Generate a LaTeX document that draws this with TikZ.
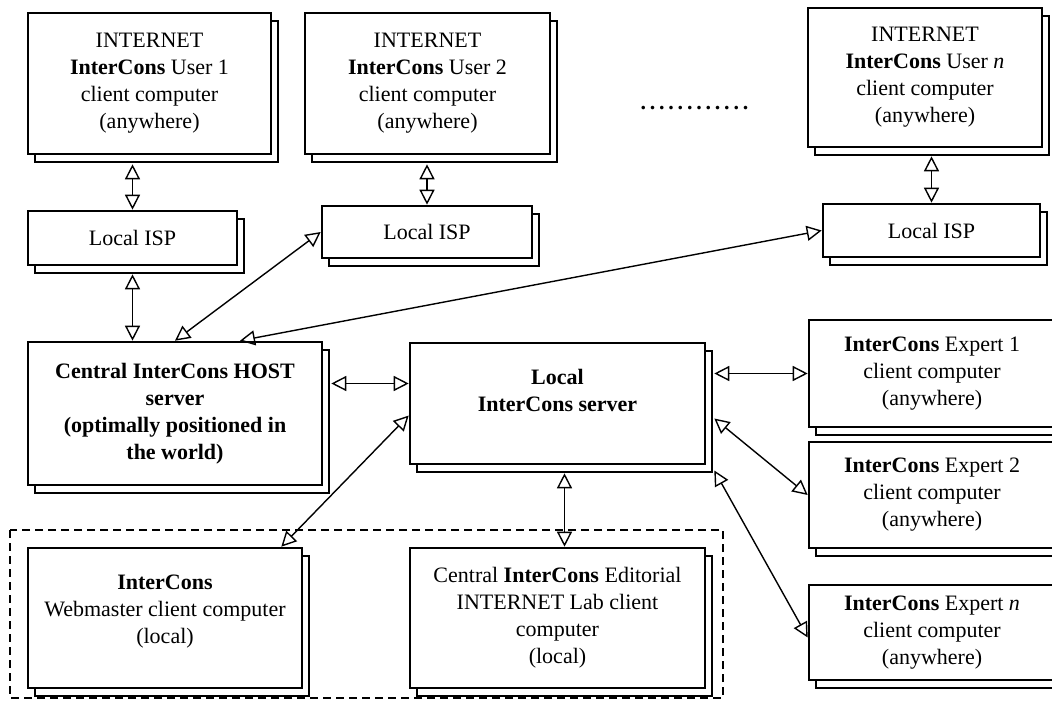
\documentclass[tikz,border=0pt]{standalone}
\usepackage{fontspec}
\setmainfont{Liberation Serif}
\usetikzlibrary{arrows.meta,shadows}
\tikzset{
  mytip/.tip={Triangle[open,length=15pt,width=15pt]},
  conn/.style={mytip-mytip, line width=1.4pt},
  txt/.style={font=\fontsize{22}{27}\selectfont},
  box/.style={draw, line width=2.6pt, fill=white, align=center, inner sep=0pt,
    txt,
    general shadow={shadow xshift=7pt, shadow yshift=-8pt, draw=black, fill=white, line width=1.6pt}},
}
\def\mydots{.\kern3.8pt.\kern3.8pt.\kern3.8pt.\kern3.8pt.\kern3.8pt.\kern3.8pt.\kern3.8pt.\kern3.8pt.\kern3.8pt.\kern3.8pt.\kern3.8pt.}
\begin{document}
\begin{tikzpicture}[x=1pt,y=-1pt]
\path[use as bounding box] (0,0) rectangle (1052,701);
\clip (0,0) rectangle (1052,701);

% dashed group
\draw[line width=1.4pt, dash pattern=on 8pt off 5pt] (10,530) rectangle (723,698);

% user boxes
\node[box, minimum width=243pt, minimum height=141pt] (u1) at (149.5,83.5)
  {INTERNET\\\textbf{InterCons} User 1\\client computer\\(anywhere)};
\node[box, minimum width=245pt, minimum height=141pt] (u2) at (427.5,83.5)
  {INTERNET\\\textbf{InterCons} User 2\\client computer\\(anywhere)};
\node[box, minimum width=234pt, minimum height=139pt] (un) at (925,77.5)
  {INTERNET\\\textbf{InterCons} User \textit{n}\\client computer\\(anywhere)};
\node[txt, anchor=base west] (dots) at (637,109) {\textbf{\mydots}};

% ISP boxes
\node[box, minimum width=209pt, minimum height=54pt] (isp1) at (132.5,238) {Local ISP};
\node[box, minimum width=210pt, minimum height=52pt] (isp2) at (427,232) {Local ISP};
\node[box, minimum width=217pt, minimum height=53pt] (ispn) at (931.5,230.5) {Local ISP};

% servers
\node[box, minimum width=294pt, minimum height=143pt] (host) at (175,413.5)
  {\textbf{Central InterCons HOST}\\\textbf{server}\\\textbf{(optimally positioned in}\\\textbf{the world)}};
\node[box, minimum width=295pt, minimum height=121pt] (local) at (557.5,403.5)
  {\textbf{Local}\\\textbf{InterCons server}\\\mbox{}};

% experts
\node[box, minimum width=246pt, minimum height=107pt] (e1) at (932,373.5)
  {\textbf{InterCons} Expert 1\\client computer\\(anywhere)};
\node[box, minimum width=246pt, minimum height=106pt] (e2) at (932,495)
  {\textbf{InterCons} Expert 2\\client computer\\(anywhere)};
\node[box, minimum width=246pt, minimum height=95pt] (en) at (932,632.5)
  {\textbf{InterCons} Expert \textit{n}\\client computer\\(anywhere)};

% local clients
\node[box, minimum width=274pt, minimum height=140pt] (web) at (165,618)
  {\textbf{InterCons}\\Webmaster client computer\\(local)\\[-10pt]\mbox{}};
\node[box, minimum width=295pt, minimum height=140pt] (edit) at (557.5,618)
  {Central \textbf{InterCons} Editorial\\INTERNET Lab client\\computer\\(local)};

% connectors
\coordinate (u1s) at ([yshift=-9pt]u1.south);
\draw[conn] (isp1.north |- u1s) -- (isp1.north);
\coordinate (u2s) at ([yshift=-9pt]u2.south);
\draw[conn] (isp2.north |- u2s) -- (isp2.north);
\coordinate (uns) at ([yshift=-8pt]un.south);
\draw[conn] (ispn.north |- uns) -- (ispn.north);

\coordinate (isp1s) at ([yshift=-8pt]isp1.south);
\draw[conn] (isp1s) -- (isp1s |- host.north);
\draw[conn] (host.north) -- (isp2.west);
\draw[conn] ([xshift=65pt]host.north) -- (ispn.west);

\coordinate (hr) at ([xshift=8pt]host.east);
\coordinate (lw) at ([yshift=20pt]local.west);
\draw[conn] (hr |- lw) -- (lw);

\draw[conn] ([xshift=-22pt]web.north east) -- ([yshift=-12pt]local.west);
\coordinate (ls) at ([xshift=7pt,yshift=-8pt]local.south);
\draw[conn] (ls) -- (ls |- edit.north);

\coordinate (lr) at ([xshift=8pt]local.east);
\draw[conn] (lr |- e1.west) -- (e1.west);
\draw[conn] ([yshift=-15pt]lr) -- (e2.west);
\draw[conn] ([yshift=-67pt]lr) -- ([yshift=-5pt]en.west);
\end{tikzpicture}
\end{document}
